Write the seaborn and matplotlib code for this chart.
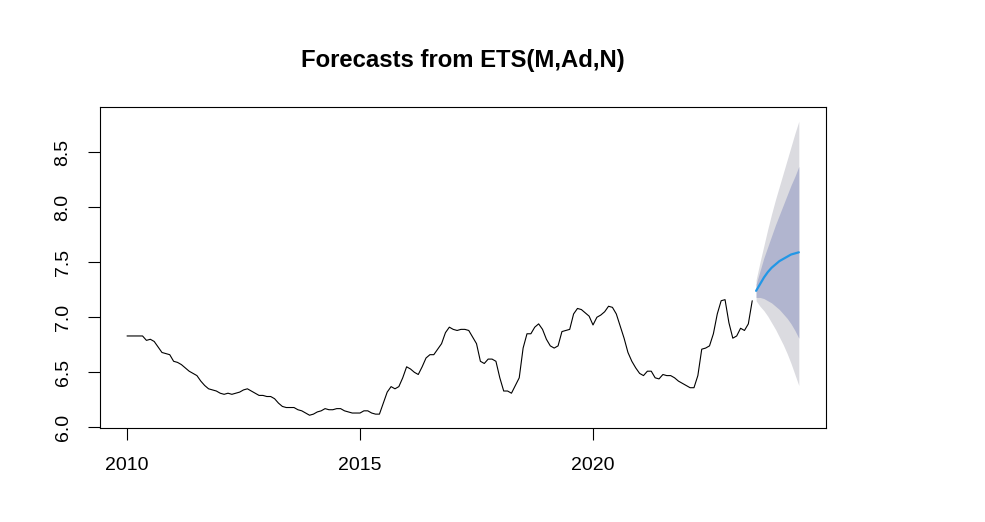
import numpy as np
import pandas as pd
import matplotlib
matplotlib.use("Agg")
import matplotlib.pyplot as plt
import seaborn as sns

# Observed monthly series, Jan 2010 - Jun 2023
start_year = 2010
observed = [
    6.83, 6.83, 6.83, 6.83, 6.83, 6.79, 6.80, 6.78, 6.73, 6.68, 6.67, 6.66,
    6.60, 6.59, 6.57, 6.54, 6.51, 6.49, 6.47, 6.42, 6.38, 6.35, 6.34, 6.33,
    6.31, 6.30, 6.31, 6.30, 6.31, 6.32, 6.34, 6.35, 6.33, 6.31, 6.29, 6.29,
    6.28, 6.28, 6.26, 6.22, 6.19, 6.18, 6.18, 6.18, 6.16, 6.15, 6.13, 6.11,
    6.12, 6.14, 6.15, 6.17, 6.16, 6.16, 6.17, 6.17, 6.15, 6.14, 6.13, 6.13,
    6.13, 6.15, 6.15, 6.13, 6.12, 6.12, 6.22, 6.32, 6.37, 6.35, 6.37, 6.45,
    6.55, 6.53, 6.50, 6.48, 6.55, 6.63, 6.66, 6.66, 6.71, 6.76, 6.86, 6.91,
    6.89, 6.88, 6.89, 6.89, 6.88, 6.82, 6.76, 6.60, 6.58, 6.62, 6.62, 6.60,
    6.45, 6.33, 6.33, 6.31, 6.38, 6.45, 6.72, 6.85, 6.85, 6.91, 6.94, 6.89,
    6.80, 6.74, 6.72, 6.74, 6.87, 6.88, 6.89, 7.03, 7.08, 7.07, 7.04, 7.01,
    6.93, 7.00, 7.02, 7.05, 7.10, 7.09, 7.03, 6.92, 6.81, 6.68, 6.60, 6.54,
    6.49, 6.47, 6.51, 6.51, 6.45, 6.44, 6.48, 6.47, 6.47, 6.45, 6.42, 6.40,
    6.38, 6.36, 6.36, 6.47, 6.71, 6.72, 6.74, 6.85, 7.03, 7.15, 7.16, 6.95,
    6.81, 6.83, 6.90, 6.88, 6.94, 7.15,
]

# Forecast, Jul 2023 - Jun 2024
fc_mean  = [7.24, 7.30, 7.36, 7.41, 7.45, 7.48, 7.51, 7.53, 7.55, 7.57, 7.58, 7.59]
lo80     = [7.18, 7.18, 7.17, 7.15, 7.13, 7.10, 7.07, 7.03, 6.99, 6.94, 6.88, 6.81]
hi80     = [7.30, 7.42, 7.54, 7.64, 7.74, 7.84, 7.93, 8.02, 8.11, 8.20, 8.28, 8.37]
lo95     = [7.15, 7.10, 7.06, 7.01, 6.95, 6.89, 6.82, 6.75, 6.67, 6.58, 6.48, 6.38]
hi95     = [7.34, 7.50, 7.65, 7.80, 7.94, 8.07, 8.19, 8.31, 8.43, 8.55, 8.67, 8.78]

x_ticks = [2010, 2015, 2020]
y_ticks = [6.0, 6.5, 7.0, 7.5, 8.0, 8.5]
title = "Forecasts from ETS(M,Ad,N)"

n_obs = len(observed)
obs_df = pd.DataFrame({
    "time": start_year + np.arange(n_obs) / 12.0,
    "value": observed,
})
fc_df = pd.DataFrame({
    "time": start_year + (n_obs + np.arange(len(fc_mean))) / 12.0,
    "mean": fc_mean, "lo80": lo80, "hi80": hi80, "lo95": lo95, "hi95": hi95,
})

sns.set_theme(style="white")
plt.rcParams["font.family"] = ["Liberation Sans", "DejaVu Sans"]

fig = plt.figure(figsize=(9.85, 5.22), dpi=100)
ax = fig.add_axes([100 / 985, 1 - 428 / 522, 726 / 985, 321 / 522])

ax.fill_between(fc_df["time"], fc_df["lo95"], fc_df["hi95"],
                color="#dbdbe0", linewidth=0, zorder=1)
ax.fill_between(fc_df["time"], fc_df["lo80"], fc_df["hi80"],
                color="#b1b5cf", linewidth=0, zorder=2)
sns.lineplot(data=obs_df, x="time", y="value", ax=ax, color="black",
             linewidth=0.8, zorder=3)
sns.lineplot(data=fc_df, x="time", y="mean", ax=ax, color="#2297E6",
             linewidth=1.6, zorder=4)

ax.set_xlim(2009.42, 2025.0)
ax.set_ylim(5.994, 8.91)
ax.set_xticks(x_ticks)
ax.set_xticklabels([str(t) for t in x_ticks])
ax.set_yticks(y_ticks)
ax.set_yticklabels([f"{v:.1f}" for v in y_ticks], rotation=90, va="center")
ax.set_xlabel("")
ax.set_ylabel("")
ax.tick_params(axis="both", direction="out", length=8.5, width=0.8,
               color="black", labelsize=14, labelcolor="black",
               bottom=True, left=True)
ax.tick_params(axis="x", pad=12.5)
ax.tick_params(axis="y", pad=12)
for s in ax.spines.values():
    s.set_color("black")
    s.set_linewidth(0.8)

fig.text(463 / 985, 1 - 60 / 522, title, ha="center", va="center",
         fontsize=17.2, fontweight="bold", color="black")

fig.savefig("out.png", dpi=100, facecolor="white")
